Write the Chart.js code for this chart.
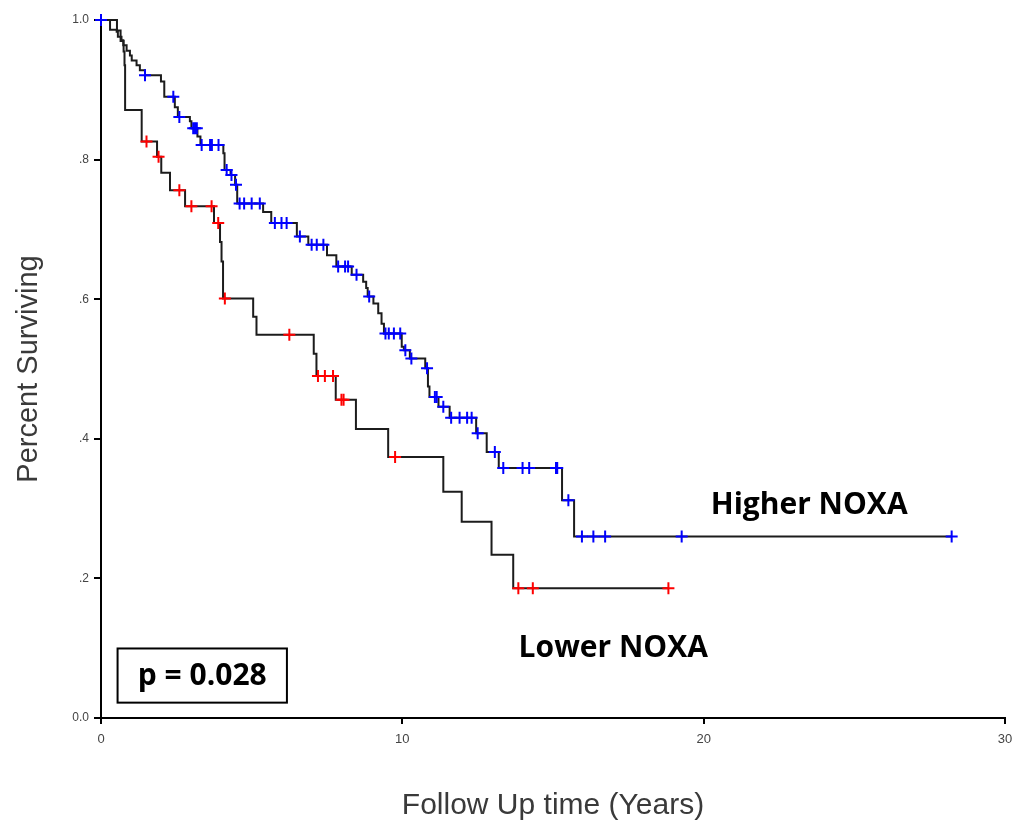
<!DOCTYPE html>
<html>
<head>
<meta charset="utf-8">
<script src="https://cdn.jsdelivr.net/npm/chart.js@4.4.1/dist/chart.umd.min.js"></script>
<style>
  html, body { margin: 0; padding: 0; background: #ffffff; }
  #wrap { position: relative; width: 1016px; height: 826px; }
</style>
</head>
<body>
<div id="wrap"><canvas id="c" width="1016" height="826"></canvas></div>
<script>
// ---- Data (Kaplan-Meier curves) ----
// Lower NOXA: event times (years) and survival after each step
const lowTimes = [0, 0.53, 0.65, 0.75, 0.78, 0.8, 1.35, 1.86, 2.0, 2.29, 2.79, 3.75, 3.95, 4.0, 4.05, 5.05, 5.16, 7.06, 7.15, 7.79, 8.46, 9.53, 11.36, 11.97, 12.96, 13.68, 18.83];
const lowSurv  = [1.0, 0.985, 0.97, 0.955, 0.935, 0.871, 0.826, 0.804, 0.781, 0.756, 0.733, 0.709, 0.682, 0.654, 0.601, 0.575, 0.549, 0.522, 0.49, 0.456, 0.414, 0.374, 0.324, 0.281, 0.234, 0.186, 0.186];
const lowCensored = [0, 1.51, 1.91, 2.6, 3.0, 3.67, 3.89, 4.11, 6.25, 7.2, 7.43, 7.7, 7.98, 8.05, 9.76, 13.85, 14.33, 18.83];

// Higher NOXA
const highTimes = [0, 0.3, 0.52, 0.56, 0.68, 0.74, 0.85, 0.96, 1.02, 1.18, 1.29, 1.46, 1.99, 2.1, 2.45, 2.55, 2.95, 3.0, 3.2, 3.3, 4.06, 4.1, 4.3, 4.45, 4.52, 5.38, 5.65, 6.5, 6.88, 7.5, 7.81, 8.32, 8.7, 8.8, 8.85, 9.04, 9.2, 9.31, 9.39, 9.98, 10.05, 10.25, 10.76, 10.85, 10.9, 11.2, 11.57, 12.45, 12.8, 13.2, 15.3, 15.7, 28.23];
const highSurv  = [1.0, 0.986, 0.983, 0.976, 0.971, 0.964, 0.956, 0.949, 0.942, 0.935, 0.928, 0.921, 0.912, 0.89, 0.875, 0.861, 0.855, 0.845, 0.833, 0.821, 0.809, 0.785, 0.778, 0.764, 0.737, 0.725, 0.709, 0.69, 0.678, 0.663, 0.647, 0.635, 0.625, 0.616, 0.604, 0.594, 0.58, 0.565, 0.551, 0.532, 0.527, 0.515, 0.501, 0.475, 0.46, 0.446, 0.43, 0.408, 0.381, 0.358, 0.312, 0.26, 0.26];
const highCensored = [0, 1.46, 2.4, 2.6, 3.06, 3.12, 3.18, 3.34, 3.62, 3.68, 3.9, 4.17, 4.33, 4.48, 4.6, 4.75, 5.0, 5.27, 5.77, 5.99, 6.16, 6.6, 6.99, 7.16, 7.38, 7.87, 8.1, 8.2, 8.48, 8.9, 9.44, 9.55, 9.72, 9.93, 10.1, 10.3, 10.82, 11.08, 11.14, 11.36, 11.62, 11.9, 12.15, 12.3, 12.5, 13.07, 13.35, 13.99, 14.21, 15.1, 15.14, 15.51, 15.96, 16.34, 16.73, 19.27, 28.23];

const xTickLabels = ['0', '10', '20', '30'];
const yTickLabels = ['0.0', '.2', '.4', '.6', '.8', '1.0'];
const seriesNames = ['Higher NOXA', 'Lower NOXA'];
const pValueText = 'p = 0.028';

// ---- Build datasets ----
function survAt(times, surv, t) {
  let s = surv[0];
  for (let i = 0; i < times.length; i++) if (times[i] <= t) s = surv[i];
  return s;
}
const toPts = (xs, ys) => xs.map((x, i) => ({ x: x, y: ys[i] }));
const censorPts = (cs, times, surv) => cs.map(t => ({ x: t, y: survAt(times, surv, t) }));

const lineStyle = { showLine: true, borderColor: '#1c1c1c', borderWidth: 2, pointRadius: 0, stepped: 'before', fill: false, order: 2, clip: false };
const crossStyle = { showLine: false, pointStyle: 'cross', pointRadius: 6, pointBorderWidth: 2, order: 1, clip: false };

const labelPlugin = {
  id: 'labels',
  afterDraw(chart) {
    const ctx = chart.ctx, xs = chart.scales.x, ys = chart.scales.y;
    ctx.save();
    ctx.fillStyle = '#000';
    ctx.textBaseline = 'middle';
    ctx.textAlign = 'center';
    ctx.font = 'bold 30px "Open Sans", "DejaVu Sans", sans-serif';
    ctx.fillText(seriesNames[0], xs.getPixelForValue(23.5), ys.getPixelForValue(0.304));
    ctx.fillText(seriesNames[1], xs.getPixelForValue(17.0), ys.getPixelForValue(0.10));
    // p-value box
    const x0 = xs.getPixelForValue(0.55), x1 = xs.getPixelForValue(6.17);
    const y0 = ys.getPixelForValue(0.0996), y1 = ys.getPixelForValue(0.022);
    ctx.lineWidth = 2;
    ctx.strokeStyle = '#000';
    ctx.fillStyle = '#fff';
    ctx.fillRect(x0, y0, x1 - x0, y1 - y0);
    ctx.strokeRect(x0, y0, x1 - x0, y1 - y0);
    ctx.fillStyle = '#000';
    ctx.fillText(pValueText, (x0 + x1) / 2, (y0 + y1) / 2 + 1);
    ctx.restore();
  }
};

new Chart(document.getElementById('c'), {
  type: 'scatter',
  data: {
    datasets: [
      Object.assign({ label: seriesNames[0], data: toPts(highTimes, highSurv) }, lineStyle),
      Object.assign({ label: seriesNames[1], data: toPts(lowTimes, lowSurv) }, lineStyle),
      Object.assign({ label: seriesNames[0] + ' censored', data: censorPts(highCensored, highTimes, highSurv), borderColor: '#0000ff', backgroundColor: '#0000ff' }, crossStyle),
      Object.assign({ label: seriesNames[1] + ' censored', data: censorPts(lowCensored, lowTimes, lowSurv), borderColor: '#ff0000', backgroundColor: '#ff0000' }, crossStyle)
    ]
  },
  options: {
    responsive: false,
    animation: false,
    layout: { padding: { top: 20, right: 11, left: 0, bottom: 0 } },
    plugins: { legend: { display: false }, tooltip: { enabled: false } },
    scales: {
      x: {
        type: 'linear', min: 0, max: 30,
        afterFit(s) { s.height = 108; s.paddingLeft = 0; s.paddingRight = 0; },
        afterBuildTicks(s) { s.ticks = xTickLabels.map(v => ({ value: Number(v) })); },
        ticks: { callback: (v, i) => xTickLabels[i], color: '#444', font: { family: 'Liberation Sans', size: 13 }, padding: 8, maxRotation: 0 },
        grid: { drawOnChartArea: false, drawTicks: true, tickLength: 6, color: '#000', lineWidth: 2 },
        border: { display: true, color: '#000', width: 2 },
        title: { display: true, text: 'Follow Up time (Years)', color: '#3a3a3a', font: { family: 'Liberation Sans', size: 30 }, padding: { top: 0, bottom: 2 } }
      },
      y: {
        type: 'linear', min: 0, max: 1,
        afterFit(s) { s.width = 101; s.paddingTop = 0; s.paddingBottom = 0; },
        afterBuildTicks(s) { s.ticks = yTickLabels.map((v, i) => ({ value: i * 0.2 })); },
        ticks: { callback: (v, i) => yTickLabels[i], color: '#444', font: { family: 'Liberation Sans', size: 12 }, padding: 5 },
        grid: { drawOnChartArea: false, drawTicks: true, tickLength: 7, color: '#000', lineWidth: 2 },
        border: { display: true, color: '#000', width: 2 },
        title: { display: true, text: 'Percent Surviving', color: '#3a3a3a', font: { family: 'Liberation Sans', size: 29 }, padding: { top: 12, bottom: 0 } }
      }
    }
  },
  plugins: [labelPlugin]
});
</script>
</body>
</html>
